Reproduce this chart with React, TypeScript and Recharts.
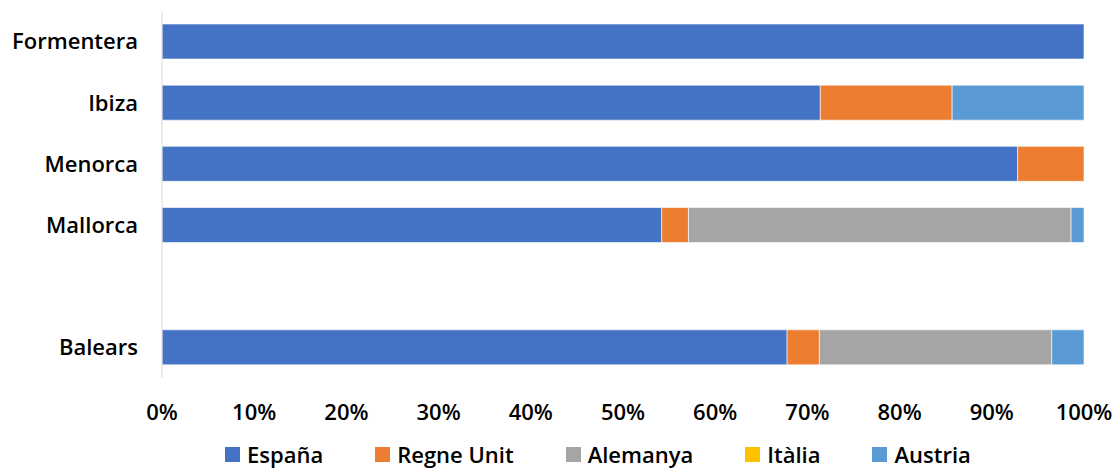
import { BarChart, Bar, XAxis, YAxis, Legend } from "recharts"

const islands = ["Formentera", "Ibiza", "Menorca", "Mallorca", "", "Balears"]
const espana = [100, 71.4, 92.8, 54.2, null, 67.8]
const regneUnit = [0, 14.3, 7.2, 2.9, null, 3.5]
const alemanya = [0, 0, 0, 41.5, null, 25.2]
const italia = [0, 0, 0, 0, null, 0]
const austria = [0, 14.3, 0, 1.4, null, 3.5]
const xTicks = [0, 10, 20, 30, 40, 50, 60, 70, 80, 90, 100]

const series = [
  { key: "espana", name: "España", color: "#4472C4" },
  { key: "regne", name: "Regne Unit", color: "#ED7D31" },
  { key: "alemanya", name: "Alemanya", color: "#A5A5A5" },
  { key: "italia", name: "Itàlia", color: "#FFC000" },
  { key: "austria", name: "Austria", color: "#5B9BD5" },
]

const chartData = islands.map((name, i) => ({
  name,
  espana: espana[i],
  regne: regneUnit[i],
  alemanya: alemanya[i],
  italia: italia[i],
  austria: austria[i],
}))

const font = "'Open Sans', 'Noto Sans', sans-serif"

function LegendRow() {
  return (
    <div style={{ display: "flex", alignItems: "center", height: 24, paddingLeft: 225, fontFamily: font, fontWeight: 600, fontSize: 22, color: "#000" }}>
      {series.map((s) => (
        <div key={s.key} style={{ display: "flex", alignItems: "center", marginRight: 52 }}>
          <span style={{ width: 15, height: 15, background: s.color, display: "inline-block", marginRight: 7 }} />
          <span style={{ lineHeight: "24px" }}>{s.name}</span>
        </div>
      ))}
    </div>
  )
}

function App() {
  return (
    <div style={{ position: "absolute", left: 0, top: 0, width: 1120, height: 470, background: "#fff", overflow: "hidden" }}>
      <BarChart
        width={1120}
        height={470}
        data={chartData}
        layout="vertical"
        barSize={35}
        margin={{ top: 11, right: 36, bottom: 4, left: 0 }}
        style={{ fontFamily: font }}
      >
        <XAxis
          type="number"
          domain={[0, 100]}
          ticks={xTicks}
          tickFormatter={(v: number) => `${v}%`}
          axisLine={false}
          tickLine={false}
          tickSize={0}
          tickMargin={26}
          height={64}
          interval={0}
          tick={{ fill: "#000", fontSize: 22, fontWeight: 600 }}
        />
        <YAxis
          type="category"
          dataKey="name"
          width={162}
          axisLine={{ stroke: "#d9d9d9" }}
          tickLine={false}
          tickSize={0}
          tickMargin={24}
          interval={0}
          tick={{ fill: "#000", fontSize: 22, fontWeight: 600 }}
        />
        <Legend verticalAlign="bottom" height={24} content={() => <LegendRow />} />
        {series.map((s) => (
          <Bar
            key={s.key}
            dataKey={s.key}
            name={s.name}
            stackId="a"
            fill={s.color}
            stroke="#ffffff"
            strokeOpacity={0.6}
            strokeWidth={1}
            isAnimationActive={false}
          />
        ))}
      </BarChart>
    </div>
  )
}

export default App
